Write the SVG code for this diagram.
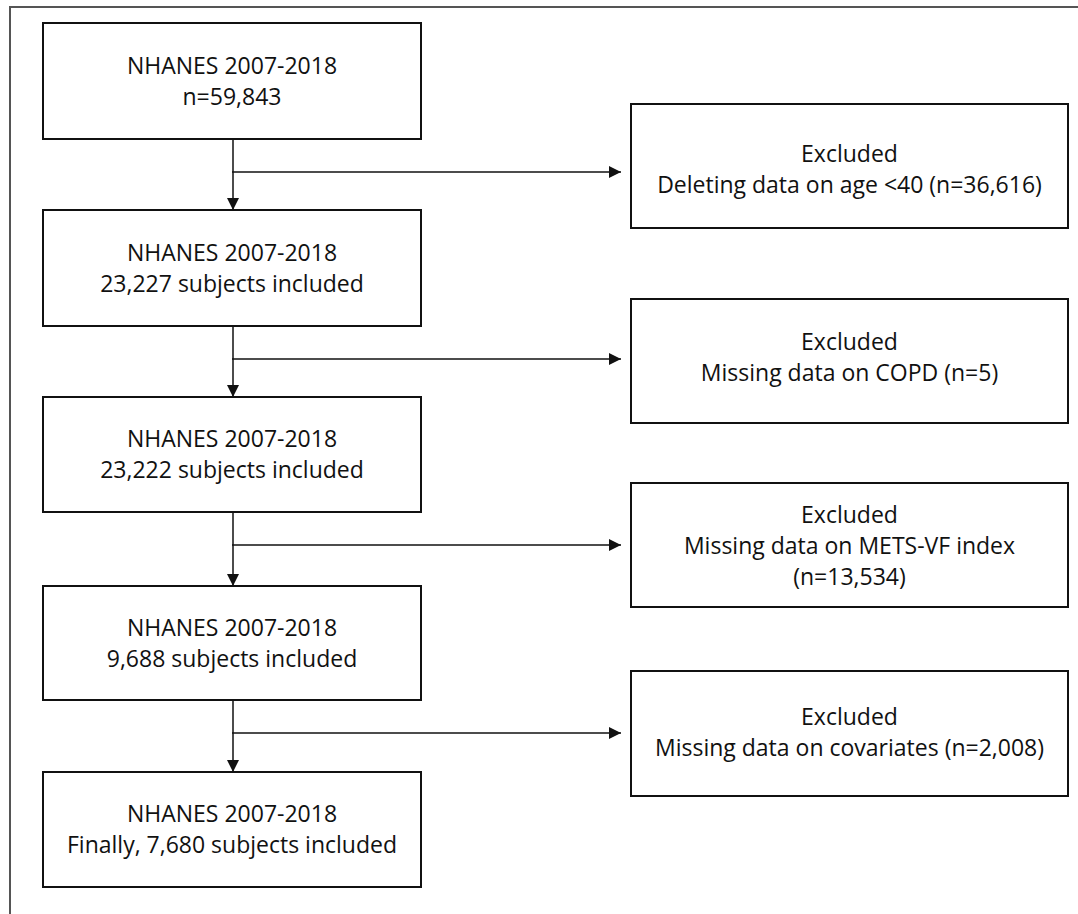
<svg xmlns="http://www.w3.org/2000/svg" width="1078" height="914" viewBox="0 0 1078 914">
<style>
.box{fill:#fff;stroke:#111;stroke-width:2}
.t{font-family:"Open Sans","Liberation Sans",sans-serif;font-size:23px;fill:#111;text-anchor:middle}
.c{stroke:#111;stroke-width:1.5;fill:none}
.frame{stroke:#555;stroke-width:2;fill:none}
</style>
<defs>
<marker id="ah" viewBox="0 0 12 12" refX="12" refY="6" markerWidth="12" markerHeight="12" markerUnits="userSpaceOnUse" orient="auto">
<path d="M0,0 L12,6 L0,12 Z" fill="#111"/>
</marker>
</defs>
<rect width="1078" height="914" fill="#fff"/>
<path class="frame" d="M10,914 V7 H1078"/>
<g id="connectors">
<line class="c" x1="233" y1="139" x2="233" y2="210" marker-end="url(#ah)"/>
<line class="c" x1="232" y1="172" x2="621" y2="172" marker-end="url(#ah)"/>
<line class="c" x1="233" y1="326" x2="233" y2="397" marker-end="url(#ah)"/>
<line class="c" x1="232" y1="359" x2="621" y2="359" marker-end="url(#ah)"/>
<line class="c" x1="233" y1="512" x2="233" y2="586" marker-end="url(#ah)"/>
<line class="c" x1="232" y1="545" x2="621" y2="545" marker-end="url(#ah)"/>
<line class="c" x1="233" y1="700" x2="233" y2="772" marker-end="url(#ah)"/>
<line class="c" x1="232" y1="733" x2="621" y2="733" marker-end="url(#ah)"/>
</g>
<g id="n1">
<rect class="box" x="43" y="23" width="378" height="116"/>
<text class="t" x="232" y="73.5">NHANES 2007-2018</text>
<text class="t" x="232" y="104.5">n=59,843</text>
</g>
<g id="n2">
<rect class="box" x="43" y="210" width="378" height="116"/>
<text class="t" x="232" y="260.5">NHANES 2007-2018</text>
<text class="t" x="232" y="291.5">23,227 subjects included</text>
</g>
<g id="n3">
<rect class="box" x="43" y="397" width="378" height="115"/>
<text class="t" x="232" y="447">NHANES 2007-2018</text>
<text class="t" x="232" y="478">23,222 subjects included</text>
</g>
<g id="n4">
<rect class="box" x="43" y="586" width="378" height="114"/>
<text class="t" x="232" y="635.5">NHANES 2007-2018</text>
<text class="t" x="232" y="666.5">9,688 subjects included</text>
</g>
<g id="n5">
<rect class="box" x="43" y="772" width="378" height="115"/>
<text class="t" x="232" y="822">NHANES 2007-2018</text>
<text class="t" x="232" y="853">Finally, 7,680 subjects included</text>
</g>
<g id="e1">
<rect class="box" x="631" y="104" width="437" height="124"/>
<text class="t" x="849.5" y="162">Excluded</text>
<text class="t" x="849.5" y="193">Deleting data on age &lt;40 (n=36,616)</text>
</g>
<g id="e2">
<rect class="box" x="631" y="299" width="437" height="124"/>
<text class="t" x="849.5" y="350">Excluded</text>
<text class="t" x="849.5" y="381">Missing data on COPD (n=5)</text>
</g>
<g id="e3">
<rect class="box" x="631" y="483" width="437" height="124"/>
<text class="t" x="849.5" y="523">Excluded</text>
<text class="t" x="849.5" y="554">Missing data on METS-VF index</text>
<text class="t" x="849.5" y="585">(n=13,534)</text>
</g>
<g id="e4">
<rect class="box" x="631" y="671" width="437" height="125"/>
<text class="t" x="849.5" y="725">Excluded</text>
<text class="t" x="849.5" y="756">Missing data on covariates (n=2,008)</text>
</g>
</svg>
